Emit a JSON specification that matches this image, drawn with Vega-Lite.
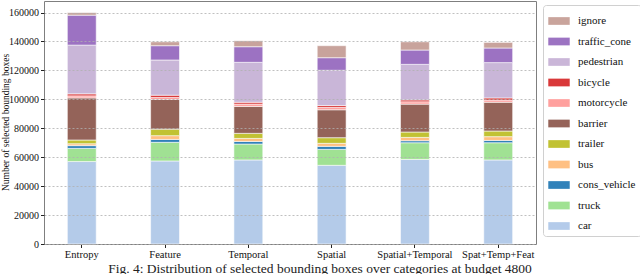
{
  "$schema": "https://vega.github.io/schema/vega-lite/v6.json",
  "width": 492,
  "height": 243,
  "autosize": "none",
  "padding": {"left": 44, "top": 1, "right": 104, "bottom": 30},
  "background": "white",
  "config": {
    "font": "Liberation Serif",
    "view": {"stroke": "#7f7f7f", "strokeWidth": 1},
    "axis": {"labelFont": "Liberation Serif", "titleFont": "Liberation Serif"},
    "legend": {"labelFont": "Liberation Serif"}
  },
  "title": {
    "text": "Fig. 4: Distribution of selected bounding boxes over categories at budget 4800",
    "orient": "bottom",
    "anchor": "middle",
    "frame": "group",
    "dx": 30,
    "offset": 2,
    "font": "Liberation Serif",
    "fontSize": 13.5,
    "fontWeight": "normal",
    "color": "#222"
  },
  "data": {
    "values": [
      {"method": "Entropy", "category": "car", "o": 0, "count": 57000},
      {"method": "Entropy", "category": "truck", "o": 1, "count": 9100},
      {"method": "Entropy", "category": "cons_vehicle", "o": 2, "count": 1900},
      {"method": "Entropy", "category": "bus", "o": 3, "count": 1300},
      {"method": "Entropy", "category": "trailer", "o": 4, "count": 2600},
      {"method": "Entropy", "category": "barrier", "o": 5, "count": 29100},
      {"method": "Entropy", "category": "motorcycle", "o": 6, "count": 1400},
      {"method": "Entropy", "category": "bicycle", "o": 7, "count": 1400},
      {"method": "Entropy", "category": "pedestrian", "o": 8, "count": 33700},
      {"method": "Entropy", "category": "traffic_cone", "o": 9, "count": 20700},
      {"method": "Entropy", "category": "ignore", "o": 10, "count": 1800},
      {"method": "Feature", "category": "car", "o": 0, "count": 57400},
      {"method": "Feature", "category": "truck", "o": 1, "count": 12900},
      {"method": "Feature", "category": "cons_vehicle", "o": 2, "count": 2000},
      {"method": "Feature", "category": "bus", "o": 3, "count": 2600},
      {"method": "Feature", "category": "trailer", "o": 4, "count": 4500},
      {"method": "Feature", "category": "barrier", "o": 5, "count": 20500},
      {"method": "Feature", "category": "motorcycle", "o": 6, "count": 1400},
      {"method": "Feature", "category": "bicycle", "o": 7, "count": 1600},
      {"method": "Feature", "category": "pedestrian", "o": 8, "count": 24300},
      {"method": "Feature", "category": "traffic_cone", "o": 9, "count": 9900},
      {"method": "Feature", "category": "ignore", "o": 10, "count": 2700},
      {"method": "Temporal", "category": "car", "o": 0, "count": 58100},
      {"method": "Temporal", "category": "truck", "o": 1, "count": 11000},
      {"method": "Temporal", "category": "cons_vehicle", "o": 2, "count": 1800},
      {"method": "Temporal", "category": "bus", "o": 3, "count": 2100},
      {"method": "Temporal", "category": "trailer", "o": 4, "count": 3500},
      {"method": "Temporal", "category": "barrier", "o": 5, "count": 18600},
      {"method": "Temporal", "category": "motorcycle", "o": 6, "count": 1600},
      {"method": "Temporal", "category": "bicycle", "o": 7, "count": 1300},
      {"method": "Temporal", "category": "pedestrian", "o": 8, "count": 27600},
      {"method": "Temporal", "category": "traffic_cone", "o": 9, "count": 10800},
      {"method": "Temporal", "category": "ignore", "o": 10, "count": 4100},
      {"method": "Spatial", "category": "car", "o": 0, "count": 54400},
      {"method": "Spatial", "category": "truck", "o": 1, "count": 11000},
      {"method": "Spatial", "category": "cons_vehicle", "o": 2, "count": 2100},
      {"method": "Spatial", "category": "bus", "o": 3, "count": 2100},
      {"method": "Spatial", "category": "trailer", "o": 4, "count": 3900},
      {"method": "Spatial", "category": "barrier", "o": 5, "count": 19300},
      {"method": "Spatial", "category": "motorcycle", "o": 6, "count": 1600},
      {"method": "Spatial", "category": "bicycle", "o": 7, "count": 1300},
      {"method": "Spatial", "category": "pedestrian", "o": 8, "count": 24400},
      {"method": "Spatial", "category": "traffic_cone", "o": 9, "count": 8700},
      {"method": "Spatial", "category": "ignore", "o": 10, "count": 8300},
      {"method": "Spatial+Temporal", "category": "car", "o": 0, "count": 58500},
      {"method": "Spatial+Temporal", "category": "truck", "o": 1, "count": 11500},
      {"method": "Spatial+Temporal", "category": "cons_vehicle", "o": 2, "count": 1400},
      {"method": "Spatial+Temporal", "category": "bus", "o": 3, "count": 2300},
      {"method": "Spatial+Temporal", "category": "trailer", "o": 4, "count": 3700},
      {"method": "Spatial+Temporal", "category": "barrier", "o": 5, "count": 19300},
      {"method": "Spatial+Temporal", "category": "motorcycle", "o": 6, "count": 1600},
      {"method": "Spatial+Temporal", "category": "bicycle", "o": 7, "count": 1300},
      {"method": "Spatial+Temporal", "category": "pedestrian", "o": 8, "count": 24600},
      {"method": "Spatial+Temporal", "category": "traffic_cone", "o": 9, "count": 9900},
      {"method": "Spatial+Temporal", "category": "ignore", "o": 10, "count": 5700},
      {"method": "Spat+Temp+Feat", "category": "car", "o": 0, "count": 58100},
      {"method": "Spat+Temp+Feat", "category": "truck", "o": 1, "count": 11900},
      {"method": "Spat+Temp+Feat", "category": "cons_vehicle", "o": 2, "count": 1600},
      {"method": "Spat+Temp+Feat", "category": "bus", "o": 3, "count": 2600},
      {"method": "Spat+Temp+Feat", "category": "trailer", "o": 4, "count": 3900},
      {"method": "Spat+Temp+Feat", "category": "barrier", "o": 5, "count": 19900},
      {"method": "Spat+Temp+Feat", "category": "motorcycle", "o": 6, "count": 1400},
      {"method": "Spat+Temp+Feat", "category": "bicycle", "o": 7, "count": 1600},
      {"method": "Spat+Temp+Feat", "category": "pedestrian", "o": 8, "count": 24400},
      {"method": "Spat+Temp+Feat", "category": "traffic_cone", "o": 9, "count": 10100},
      {"method": "Spat+Temp+Feat", "category": "ignore", "o": 10, "count": 3900}
    ]
  },
  "mark": {"type": "bar", "opacity": 0.92, "stroke": "white", "strokeWidth": 0.6},
  "encoding": {
    "x": {
      "field": "method",
      "type": "nominal",
      "sort": ["Entropy", "Feature", "Temporal", "Spatial", "Spatial+Temporal", "Spat+Temp+Feat"],
      "scale": {"paddingInner": 0.653, "paddingOuter": 0.28},
      "axis": {
        "title": null,
        "labelAngle": 0,
        "labelFont": "Liberation Serif",
        "labelFontSize": 10.5,
        "labelColor": "#111",
        "labelPadding": 2,
        "tickColor": "#222",
        "tickSize": 3.5,
        "domain": false
      }
    },
    "y": {
      "field": "count",
      "type": "quantitative",
      "aggregate": "sum",
      "stack": "zero",
      "scale": {"domain": [0, 168000], "nice": false},
      "axis": {
        "title": "Number of selected bounding boxes",
        "titleFont": "Liberation Serif",
        "titleFontSize": 9.5,
        "titleFontWeight": "normal",
        "titleColor": "#111",
        "titleX": -34,
        "titleY": 121,
        "values": [0, 20000, 40000, 60000, 80000, 100000, 120000, 140000, 160000],
        "format": "d",
        "labelFont": "Liberation Serif",
        "labelFontSize": 10,
        "labelColor": "#111",
        "labelPadding": 2,
        "tickColor": "#222",
        "tickSize": 3.5,
        "domain": false,
        "grid": true,
        "gridColor": "#b0b0b0",
        "gridDash": [2, 2],
        "gridWidth": 0.8,
        "zindex": 1
      }
    },
    "color": {
      "field": "category",
      "type": "nominal",
      "scale": {
        "domain": ["ignore", "traffic_cone", "pedestrian", "bicycle", "motorcycle", "barrier", "trailer", "bus", "cons_vehicle", "truck", "car"],
        "range": ["#c49c94", "#9467bd", "#c5b0d5", "#d62728", "#ff9896", "#8c564b", "#bcbd22", "#ffbb78", "#1f77b4", "#98df8a", "#aec7e8"]
      },
      "legend": {
        "title": null,
        "orient": "none",
        "legendX": 499,
        "legendY": 4,
        "strokeColor": "#d0d0d0",
        "cornerRadius": 3,
        "padding": 5,
        "fillColor": "white",
        "symbolType": "M-1,-0.36H1V0.36H-1Z",
        "symbolSize": 460,
        "symbolStrokeWidth": 0,
        "symbolOpacity": 0.92,
        "labelFont": "Liberation Serif",
        "labelFontSize": 11,
        "labelColor": "#111",
        "labelOffset": 8,
        "rowPadding": 4.5
      }
    },
    "order": {"field": "o", "type": "quantitative", "sort": "ascending"}
  }
}
